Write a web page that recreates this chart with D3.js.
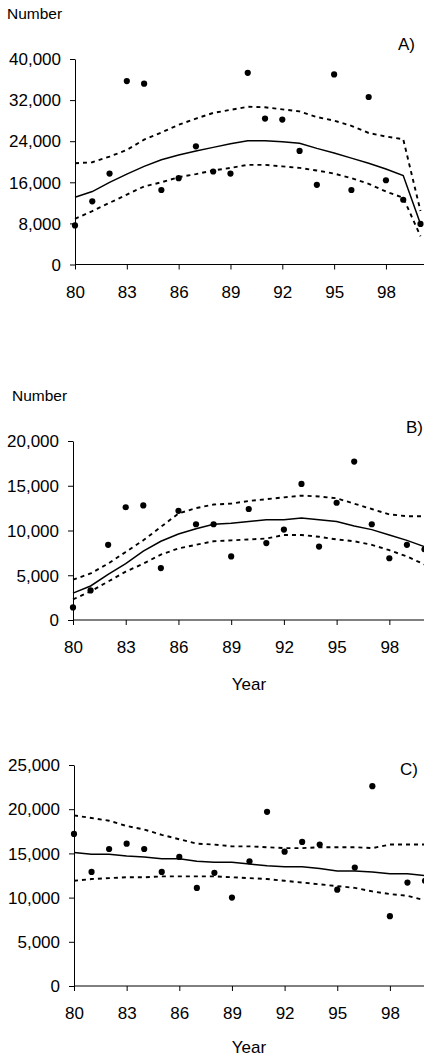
<!DOCTYPE html>
<html>
<head>
<meta charset="utf-8">
<script src="https://cdn.jsdelivr.net/npm/d3@7/dist/d3.min.js"></script>
<style>
  body { margin: 0; background: #fff; }
  svg { display: block; font-family: "Liberation Sans", Arial, sans-serif; }
  .tick text { font-size: 17px; fill: #000; }
  .domain, .tick line { stroke: #000; stroke-width: 1; }
</style>
</head>
<body>
<svg id="chart" width="424" height="1057"></svg>
<script>
// years 1980..2000 (shown as two digits)
let years = [1980, 1981, 1982, 1983, 1984, 1985, 1986, 1987, 1988, 1989, 1990,
             1991, 1992, 1993, 1994, 1995, 1996, 1997, 1998, 1999, 2000];
let xTicks = [1980, 1983, 1986, 1989, 1992, 1995, 1998];

// panel A
let obsA = [7600, 12300, 17700, 35700, 35200, 14500, 16800, 23000, 18100, 17700, 37300, 28400, 28200, 22100, 15500, 37000, 14500, 32600, 16400, 12600, 7900];
let fitA = [13100, 14200, 16000, 17600, 19100, 20400, 21300, 22100, 22800, 23500, 24100, 24100, 23900, 23600, 22600, 21700, 20700, 19700, 18600, 17300, 7900];
let upA  = [19700, 19900, 21000, 22300, 24300, 25700, 27200, 28400, 29500, 30100, 30700, 30600, 30200, 29800, 28700, 28000, 27000, 25600, 24900, 24400, 10400];
let loA  = [8900, 10400, 12000, 13600, 15200, 16000, 17000, 17600, 18300, 18800, 19400, 19400, 19100, 18800, 18300, 17700, 16800, 15700, 14200, 13000, 5500];
let yTicksA = [0, 8000, 16000, 24000, 32000, 40000];

// panel B
let obsB = [1400, 3300, 8400, 12600, 12800, 5800, 12200, 10700, 10700, 7100, 12400, 8600, 10100, 15200, 8200, 13100, 17700, 10700, 6900, 8400, 7900];
let fitB = [3000, 3800, 5100, 6300, 7700, 8800, 9600, 10200, 10700, 10800, 11000, 11200, 11200, 11400, 11200, 11000, 10500, 10100, 9500, 8900, 8200];
let upB  = [4500, 5200, 6300, 7600, 8900, 10400, 11900, 12500, 12900, 13000, 13300, 13500, 13700, 13900, 13800, 13600, 13000, 12400, 11800, 11600, 11600];
let loB  = [2300, 3200, 4300, 5400, 6300, 7300, 8000, 8400, 8800, 8900, 9000, 9100, 9500, 9500, 9300, 9000, 8800, 8400, 7800, 7100, 6200];
let yTicksB = [0, 5000, 10000, 15000, 20000];

// panel C
let obsC = [17200, 12900, 15500, 16100, 15500, 12900, 14600, 11100, 12800, 10000, 14100, 19700, 15200, 16300, 16000, 10900, 13400, 22600, 7900, 11700, 11900];
let fitC = [15100, 14900, 14900, 14700, 14600, 14400, 14400, 14100, 14000, 14000, 13800, 13600, 13500, 13500, 13300, 13000, 13000, 12900, 12700, 12700, 12500];
let upC  = [19300, 19000, 18700, 18100, 17700, 17100, 16600, 16100, 16000, 15800, 15800, 15700, 15600, 15600, 15700, 15700, 15700, 15600, 16000, 16000, 16000];
let loC  = [11900, 12100, 12200, 12300, 12300, 12400, 12400, 12400, 12400, 12300, 12200, 12100, 11900, 11700, 11500, 11300, 11100, 10700, 10400, 10200, 9700];
let yTicksC = [0, 5000, 10000, 15000, 20000, 25000];

let svg = d3.select('#chart');

// layout per panel: x range, y range, label spots
let panels = [
    {obs: obsA, fit: fitA, up: upA, lo: loA, ticks: yTicksA, tag: 'A)',
     x0: 75, x1: 420.5, yb: 264.5, yt: 59,
     num: [7, 19], tagPos: [415, 50], year: null},
    {obs: obsB, fit: fitB, up: upB, lo: loB, ticks: yTicksB, tag: 'B)',
     x0: 73, x1: 424.5, yb: 620, yt: 441,
     num: [12, 401], tagPos: [423, 433], year: [249, 690]},
    {obs: obsC, fit: fitC, up: upC, lo: loC, ticks: yTicksC, tag: 'C)',
     x0: 74, x1: 425, yb: 986, yt: 765,
     num: null, tagPos: [418, 775], year: [249, 1053]}
];

panels.forEach(p => {
    let x = d3.scaleLinear().domain([1980, 2000]).range([p.x0, p.x1]);
    let y = d3.scaleLinear().domain([0, d3.max(p.ticks)]).range([p.yb, p.yt]);
    let g = svg.append('g');

    // x axis, drawn out to the page edge
    let xa = g.append('g').attr('transform', 'translate(0,' + p.yb + ')')
        .call(d3.axisBottom(x).tickValues(xTicks).tickSize(5).tickPadding(16)
            .tickSizeOuter(0).tickFormat(d => String(d % 100)));
    xa.select('.domain').attr('d', 'M' + p.x0 + ',0H424');

    let ya = g.append('g').attr('transform', 'translate(' + p.x0 + ',0)')
        .call(d3.axisLeft(y).tickValues(p.ticks).tickSize(5).tickPadding(9)
            .tickSizeOuter(0).tickFormat(d3.format(',')));
    ya.selectAll('.tick text').attr('dy', '0.34em');

    let line = d3.line().x((d, i) => x(years[i])).y(d => y(d));

    [p.up, p.lo].forEach(band => {
        g.append('path').datum(band).attr('d', line)
            .attr('fill', 'none').attr('stroke', '#000').attr('stroke-width', 1.9)
            .attr('stroke-dasharray', '4,4');
    });
    g.append('path').datum(p.fit).attr('d', line)
        .attr('fill', 'none').attr('stroke', '#000').attr('stroke-width', 1.5);

    g.selectAll('circle.obs').data(p.obs).enter().append('circle')
        .attr('class', 'obs')
        .attr('cx', (d, i) => x(years[i]))
        .attr('cy', d => y(d))
        .attr('r', 3.1)
        .attr('fill', '#000');

    if (p.num) {
        g.append('text').attr('x', p.num[0]).attr('y', p.num[1])
            .attr('font-size', 15.5).text('Number');
    }
    g.append('text').attr('x', p.tagPos[0]).attr('y', p.tagPos[1])
        .attr('text-anchor', 'end').attr('font-size', 17).text(p.tag);
    if (p.year) {
        g.append('text').attr('x', p.year[0]).attr('y', p.year[1])
            .attr('text-anchor', 'middle').attr('font-size', 17).text('Year');
    }
});
</script>
</body>
</html>
